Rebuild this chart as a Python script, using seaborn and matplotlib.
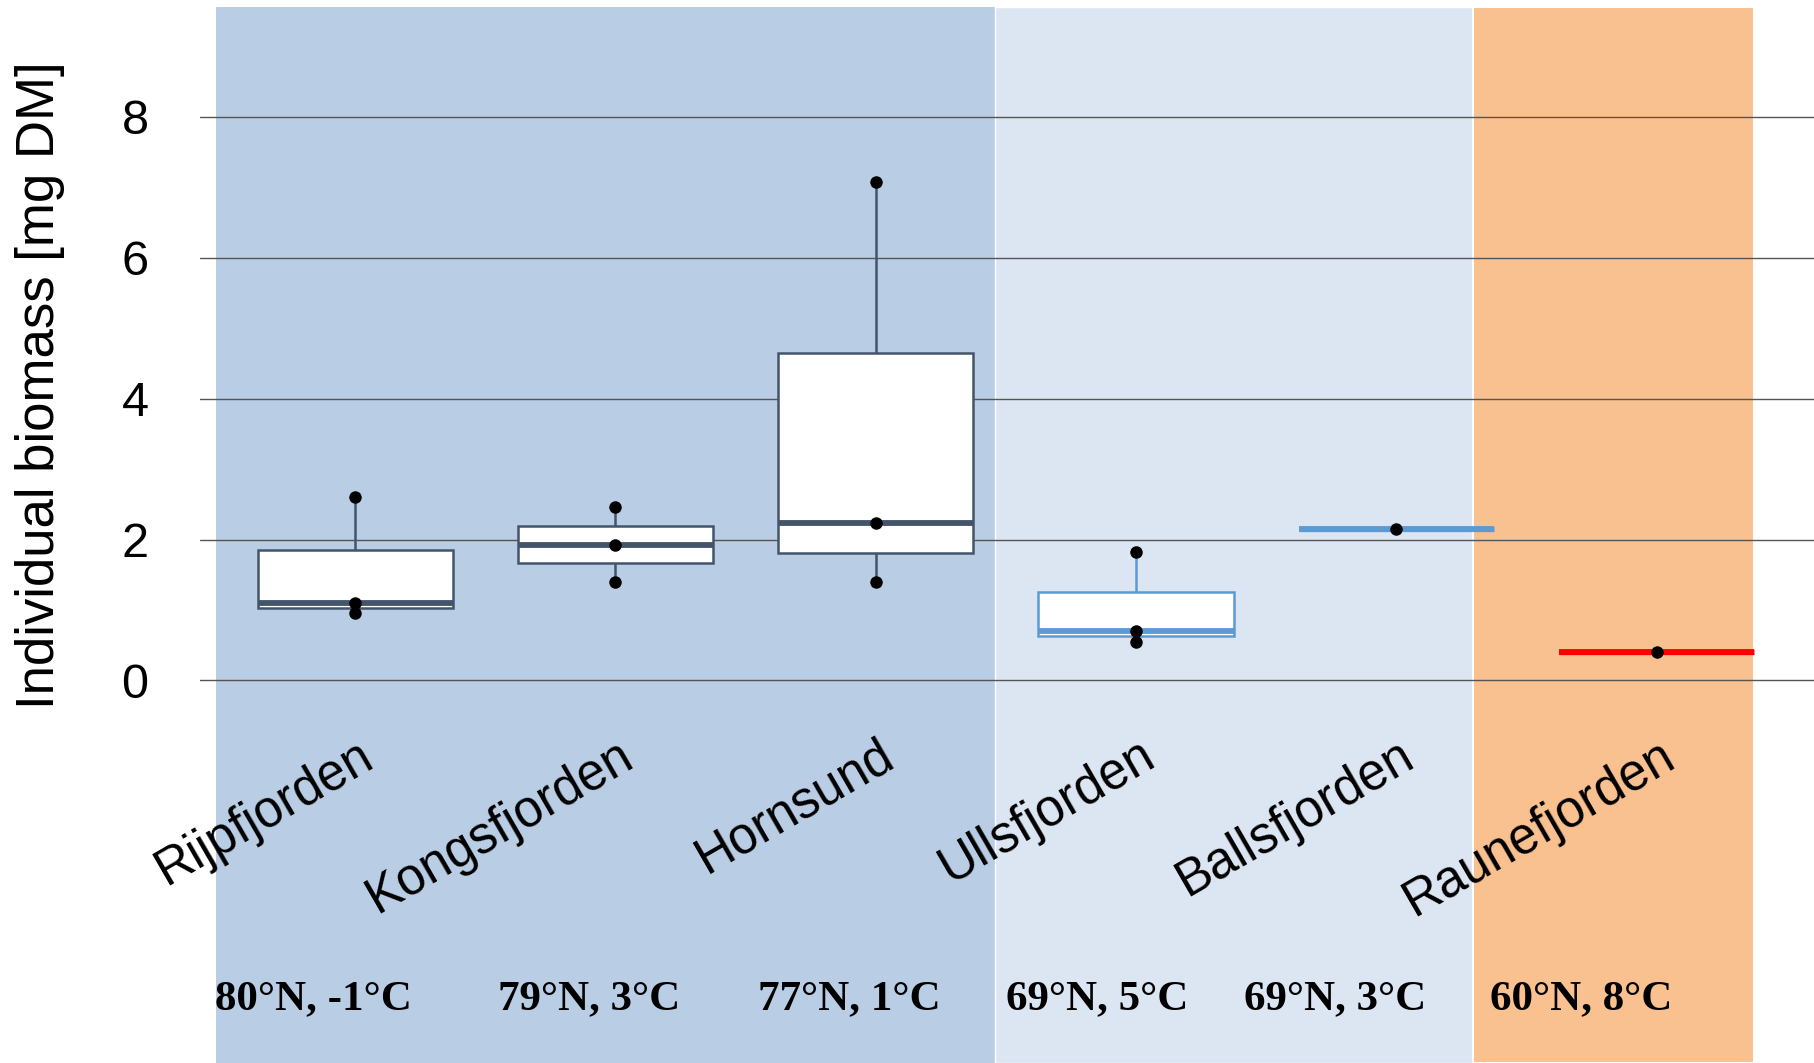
import pandas as pd
import matplotlib.pyplot as plt
import seaborn as sns

# values
sites = ['Rijpfjorden', 'Kongsfjorden', 'Hornsund', 'Ullsfjorden', 'Ballsfjorden', 'Raunefjorden']
site_info = ['80°N, -1°C', '79°N, 3°C', '77°N, 1°C', '69°N, 5°C', '69°N, 3°C', '60°N, 8°C']
biomass = [
    [0.955, 1.10, 2.60],
    [1.40, 1.93, 2.46],
    [1.40, 2.23, 7.08],
    [0.55, 0.70, 1.82],
    [2.15],
    [0.40],
]
edge_colors = ['#44546a', '#44546a', '#44546a', '#5b9bd5', '#5b9bd5', '#ff0000']
yticks = [0, 2, 4, 6, 8]

df = pd.DataFrame([(s, v) for s, vals in zip(sites, biomass) for v in vals],
                  columns=['site', 'biomass'])

sns.set_style('white')
plt.rcParams['font.family'] = ['Liberation Sans', 'DejaVu Sans']
plt.rcParams['text.color'] = 'black'
plt.rcParams['ytick.color'] = 'black'

fig = plt.figure(figsize=(18.14, 10.63), dpi=100)
ax = fig.add_axes([200 / 1814, 0, 1 - 200 / 1814, 1])

# background bands
ylo, yhi = -5.43, 9.66
band_top = (9.56 - ylo) / (yhi - ylo)
ax.axvspan(-0.533, 2.458, ymax=band_top, color='#b9cde4', zorder=0, lw=0)
ax.axvspan(2.458, 4.293, ymax=band_top, facecolor='#dce6f2', edgecolor='white', lw=1, zorder=0)
ax.axvspan(4.293, 5.373, ymax=band_top, facecolor='#f9c090', edgecolor='white', lw=1.5, zorder=0)

# boxes, one call per site so each gets its own edge colour
for site, col in zip(sites, edge_colors):
    single = len(df[df.site == site]) == 1
    sns.boxplot(data=df[df.site == site], x='site', y='biomass', order=sites,
                whis=(0, 100), width=0.75, color='white', linecolor=col,
                linewidth=3.8 if single else 1.8, showcaps=False,
                medianprops=dict(linewidth=4.2, color=col),
                showfliers=False, ax=ax)

sns.stripplot(data=df, x='site', y='biomass', order=sites, jitter=False,
              color='black', size=9, zorder=5, ax=ax)

ax.set_xlim(-0.596, 5.604)
ax.set_ylim(ylo, yhi)
ax.set_yticks(yticks)
ax.set_yticklabels([str(t) for t in yticks], fontsize=35)
ax.tick_params(axis='y', length=0, pad=37)
ax.set_xticks([])
ax.set_xlabel('')
ax.set_ylabel('')
ax.grid(axis='y', color='#555555', lw=1)
ax.set_axisbelow(True)
for sp in ax.spines.values():
    sp.set_visible(False)

fig.text(40 / 1814, 1 - 385 / 1063, 'Individual biomass [mg DM]', rotation=90,
         ha='center', va='center', fontsize=38)

info_offset = [-0.16, -0.10, -0.10, -0.15, -0.235, -0.29]
for i, (site, info) in enumerate(zip(sites, site_info)):
    ax.text(i + 0.055, -1.02, site, rotation=30, rotation_mode='anchor',
            ha='right', va='center', fontsize=36.5)
    ax.text(i + info_offset[i], -4.52, info, ha='center', va='center',
            fontsize=31, fontweight='bold', family=['Liberation Serif', 'DejaVu Serif'])

fig.savefig('out.png', dpi=100)
